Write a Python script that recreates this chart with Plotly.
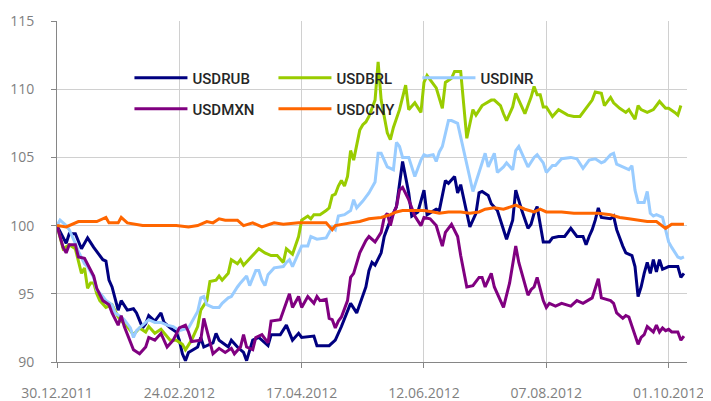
import plotly.graph_objects as go

tick_days = [0, 40, 80, 120, 160, 200]
tick_labels = ["30.12.2011", "24.02.2012", "17.04.2012", "12.06.2012", "07.08.2012", "01.10.2012"]

rub_day = [0, 3, 4, 6, 8, 10, 12, 15, 16, 17, 18, 20, 21, 23, 25, 26, 28, 29, 30, 32, 34, 35, 37, 39, 40, 41, 42, 43,
           46, 47, 48, 51, 52, 53, 56, 57, 59, 61, 62, 64, 66, 69, 70, 73, 75, 77, 79, 80, 84, 85, 89, 91, 93, 96, 98,
           101, 102, 103, 104, 106, 107, 109, 111, 113, 115, 116, 118, 120, 121, 124, 125, 127, 128, 130, 131, 132, 135,
           137, 138, 139, 141, 142, 144, 147, 149, 150, 152, 154, 155, 156, 157, 159, 161, 162, 164, 166, 168, 170, 172,
           173, 174, 175, 176, 177, 178, 181, 182, 183, 185, 186, 188, 189, 190, 191, 192, 193, 194, 195, 196, 197, 198,
           200, 201, 203, 204, 205]
rub_val = [100.0, 98.7, 99.4, 99.4, 98.3, 99.1, 98.4, 97.5, 97.4, 96.0, 95.5, 93.8, 94.5, 93.8, 93.9, 93.6, 92.5, 92.8,
           93.4, 93.0, 93.6, 92.9, 92.5, 92.2, 91.6, 90.6, 90.1, 90.7,
           91.1, 91.8, 91.1, 91.4, 92.1, 91.6, 91.1, 91.6, 91.1, 90.7, 90.1, 91.6, 91.8, 91.2, 92.0, 92.0, 92.7, 91.6,
           92.1, 91.8, 91.9, 91.2, 91.2, 91.6, 92.6, 94.3, 93.6,
           95.5, 96.7, 97.3, 97.1, 98.0, 99.2, 100.4, 101.4, 104.7, 102.4, 100.7, 101.0, 102.6, 100.8, 101.2, 101.1,
           103.3, 103.1, 103.6, 102.4, 103.0, 99.9,
           100.9, 102.4, 102.5, 102.2, 101.6, 101.1, 99.0, 100.4, 102.6, 101.1, 99.8, 100.1, 100.9, 101.4, 98.8, 98.8,
           99.1, 99.2, 99.2, 99.8, 99.2, 99.2,
           98.6, 99.2, 99.7, 100.4, 101.3, 100.6, 100.5, 100.7, 99.7, 98.5, 98.0, 97.8, 97.0, 94.8, 95.5, 96.5, 97.3,
           96.5, 97.5, 96.6, 97.5, 96.8,
           97.0, 97.0, 97.0, 96.2, 96.5]

brl_day = [0, 2, 4, 6, 8, 9, 10, 11, 12, 13, 14, 16, 18, 20, 21, 23, 25, 27, 29, 30, 32, 34, 37, 39, 41, 42, 44, 46, 47,
           49, 50, 52, 53, 54, 56, 57, 59, 60, 61, 64, 65, 66, 68, 70, 72, 74, 75, 77, 79, 80, 82, 83, 84, 86, 88, 89,
           90, 91, 92, 93, 94, 95, 96, 97, 99, 100, 101, 102, 104, 105, 106, 108, 109, 110, 112, 113, 114, 115, 117,
           119, 120, 121, 123, 124, 126, 127, 129, 130, 132, 133, 134, 136, 137, 139, 142, 143, 145, 146, 147, 149,
           150, 152, 153, 155, 156, 157, 158, 159, 160, 162, 164, 167, 169, 171, 173, 175, 176, 178, 179, 181, 182,
           184, 186, 187, 189, 190, 191, 193, 195, 197, 199, 200, 202, 203, 204]
brl_val = [100.0, 98.3, 98.6, 98.3, 96.5, 96.9, 95.4, 95.8, 95.8, 95.0, 94.5, 94.0, 94.2, 93.3, 93.0, 92.6, 92.0, 92.5,
           92.2, 92.6, 92.1, 92.4, 91.6, 91.6, 91.3, 90.9, 91.6, 92.6, 93.8,
           94.5, 95.9, 96.0, 96.3, 96.0, 96.5, 97.5, 97.2, 97.5, 97.1, 97.8, 98.0, 98.3, 98.0, 97.8, 97.8, 97.3, 98.3,
           97.9, 99.2, 100.4, 100.7, 100.5, 100.8, 100.8, 101.1, 101.3,
           102.2, 102.3, 102.9, 103.3, 102.9, 103.6, 105.5, 104.8, 107.0, 107.4, 107.6, 108.0, 109.2, 112.0, 109.2,
           106.8, 106.3, 107.2, 108.5, 109.4, 110.3, 108.5, 109.0,
           108.3, 110.5, 111.0, 110.4, 110.1, 108.6, 110.5, 110.8, 111.3, 111.3, 109.0, 106.4, 108.5, 108.1, 108.8,
           109.2, 109.2, 108.8, 108.2, 107.7, 108.7,
           109.7, 108.7, 108.2, 109.4, 110.2, 109.6, 109.6, 108.7, 108.7, 108.0, 108.5, 108.1, 108.0, 108.0, 108.6,
           109.2, 109.8, 109.7, 108.8, 109.4, 109.0,
           108.6, 108.3, 108.5, 107.8, 108.8, 108.5, 108.3, 108.5, 109.1, 108.6, 108.6, 108.3, 108.1, 108.8]

inr_day = [0, 1, 3, 4, 6, 7, 9, 10, 12, 13, 15, 16, 18, 19, 21, 22, 24, 25, 26, 28, 30, 32, 34, 36, 38, 40, 42, 43, 44,
           46, 47, 48, 49, 51, 53, 54, 56, 57, 59, 60, 62, 63, 65, 66, 67, 68, 69, 71, 74, 75, 76, 77, 79, 80, 82, 83,
           85, 87, 88, 90, 91, 92, 94, 96, 97, 98, 100, 102, 104, 105, 106, 108, 110, 111, 112, 113, 115, 117, 119,
           120, 121, 123, 124, 125, 126, 128, 129, 131, 133, 134, 135, 136, 137, 139, 140, 141, 143, 144, 146, 147,
           149, 150, 151, 153, 154, 156, 157, 159, 160, 162, 163, 165, 168, 170, 172, 174, 176, 178, 179, 181, 182,
           183, 185, 187, 188, 189, 190, 192, 193, 194, 195, 196, 198, 199, 200, 201, 203, 204, 205]
inr_val = [100.0, 100.4, 100.0, 99.7, 98.7, 98.1, 97.2, 97.0, 96.2, 95.3, 94.8, 94.5, 94.2, 93.6, 93.3, 93.1, 92.5,
           91.8, 92.3, 92.7, 93.1, 92.9, 92.9, 92.7, 92.6, 92.3, 92.4, 92.5, 92.9,
           93.7, 94.7, 94.8, 94.2, 94.0, 94.0, 94.3, 94.7, 94.8, 95.5, 95.8, 96.3, 95.6, 96.7, 96.7, 96.0, 95.6, 96.4,
           96.9, 97.0, 97.3, 97.5, 97.0, 98.0, 98.5, 98.5, 99.2,
           99.0, 99.1, 99.1, 99.9, 99.7, 100.7, 100.8, 101.1, 101.9, 101.3, 101.8, 102.4, 103.2, 105.3, 105.3, 104.3,
           104.1, 106.1, 105.8, 105.0, 105.0, 103.6, 104.8,
           105.2, 105.1, 105.2, 104.7, 105.4, 105.8, 107.7, 107.7, 107.5, 105.5, 104.6, 103.6, 102.5, 103.2, 104.6,
           105.3, 104.3, 105.3, 103.9, 104.3, 104.6,
           104.1, 105.5, 105.8, 104.8, 104.3, 105.0, 105.2, 104.6, 103.9, 104.4, 104.4, 104.9, 105.0, 104.9, 104.2,
           104.8, 104.9, 104.6, 104.7, 105.2, 105.3,
           104.5, 104.3, 104.1, 104.4, 102.6, 101.7, 101.7, 102.5, 100.9, 100.7, 100.8, 100.6, 99.6, 98.8, 98.4, 97.7,
           97.6, 97.7]

mxn_day = [0, 2, 3, 4, 6, 7, 9, 10, 12, 13, 15, 17, 18, 20, 21, 22, 23, 25, 27, 29, 30, 32, 34, 36, 38, 40, 42, 43, 44,
           47, 48, 49, 51, 53, 55, 57, 58, 60, 61, 62, 64, 65, 67, 69, 70, 73, 75, 76, 77, 79, 80, 82, 84, 85, 86, 88,
           89, 90, 91, 92, 93, 95, 96, 97, 99, 101, 102, 104, 106, 107, 108, 109, 110, 111, 112, 113, 115, 117, 119,
           120, 122, 124, 126, 127, 129, 131, 132, 133, 134, 136, 138, 139, 140, 142, 143, 146, 148, 150, 151, 154,
           155, 156, 157, 159, 160, 161, 163, 165, 168, 170, 172, 175, 177, 178, 181, 182, 183, 185, 186, 187, 188,
           190, 191, 192, 193, 195, 196, 197, 198, 199, 200, 201, 203, 204, 205]
mxn_val = [100.0, 98.4, 98.0, 98.6, 98.6, 97.7, 97.6, 97.2, 96.3, 95.4, 94.5, 94.2, 93.6, 92.7, 93.4, 92.6, 92.0, 90.9,
           90.6, 91.1, 91.8, 91.6, 92.1, 91.1, 91.6, 92.5, 92.7, 92.2, 91.5,
           91.6, 93.2, 92.4, 90.6, 91.0, 90.7, 91.0, 90.6, 91.1, 92.0, 91.1, 90.9, 91.8, 92.0, 91.4, 93.0, 93.1, 94.4,
           95.0, 94.0, 94.8, 94.0, 94.8, 94.3, 94.8, 94.5, 94.6,
           93.2, 93.1, 92.5, 93.0, 93.3, 94.5, 96.2, 96.5, 98.0, 98.9, 99.2, 98.8, 99.5, 100.6, 100.9, 100.0, 100.9,
           101.4, 102.6, 102.8, 101.9, 100.7, 100.0,
           100.6, 100.5, 100.0, 98.5, 99.5, 100.1, 99.2, 97.8, 96.5, 95.5, 95.6, 96.2, 96.2, 95.5, 96.5, 95.5, 94.0,
           95.8, 98.5, 97.3, 94.9,
           95.3, 95.5, 96.2, 94.5, 94.0, 94.3, 94.1, 94.3, 94.1, 94.5, 94.3, 94.7, 96.1, 94.7, 94.5, 94.3, 93.6, 93.2,
           93.4, 93.3, 92.6,
           91.3, 91.8, 92.0, 92.6, 92.2, 92.7, 92.2, 92.5, 92.3, 92.4, 92.2, 92.2, 91.6, 91.9]

cny_day = [0, 3, 7, 10, 13, 16, 17, 20, 21, 23, 26, 28, 31, 36, 39, 43, 46, 49, 51, 53, 55, 59, 61, 64, 67, 71, 74, 79,
           84, 88, 90, 91, 96, 99, 102, 106, 109, 111, 113, 117, 120, 123, 125, 128, 132, 135, 138, 140, 143, 146, 150,
           153, 156, 158, 160, 165, 169, 173, 177, 181, 184, 187, 190, 193, 196, 198, 199, 201, 205]
cny_val = [100.0, 99.9, 100.3, 100.3, 100.3, 100.6, 100.2, 100.2, 100.6, 100.2, 100.1, 100.0, 100.0, 100.0, 100.0,
           99.9, 100.0, 100.3, 100.2, 100.5, 100.4, 100.4, 100.0, 100.2, 99.9, 100.2, 100.1, 100.2,
           100.2, 100.2, 99.7, 100.0, 100.2, 100.3, 100.5, 100.6, 100.8, 101.0, 101.1, 101.1, 101.1, 101.0, 100.9,
           101.0, 101.0, 100.9, 101.0, 101.2, 101.3, 101.2, 101.5,
           101.2, 101.0, 101.2, 101.0, 101.0, 100.9, 100.9, 100.9, 100.8, 100.6, 100.5, 100.4, 100.3, 100.3, 100.0,
           99.8, 100.1, 100.1]

series = [
    ("USDRUB", rub_day, rub_val, "#000080", "legend"),
    ("USDBRL", brl_day, brl_val, "#99CC00", "legend"),
    ("USDINR", inr_day, inr_val, "#99CCFF", "legend"),
    ("USDMXN", mxn_day, mxn_val, "#800080", "legend2"),
    ("USDCNY", cny_day, cny_val, "#FF6600", "legend2"),
]

fig = go.Figure()
for name, xs, ys, color, lg in series:
    fig.add_trace(go.Scatter(x=xs, y=ys, name=name, mode="lines",
                             line=dict(color=color, width=3), legend=lg))

axis_col = "#868686"
grid_col = "#d0d0d0"
tick_font = dict(family="Open Sans", size=14, color="#7f7f7f")
legend_common = dict(orientation="h", xanchor="left", yanchor="middle",
                     bgcolor="rgba(0,0,0,0)", itemwidth=53,
                     entrywidth=76, entrywidthmode="pixels",
                     font=dict(family="Roboto", size=15, color="#262626", weight=500),
                     traceorder="normal", itemclick=False)

# page body has an 8px margin, so the figure is 703x393 and offset by 8px
fig.update_layout(
    width=703, height=393,
    margin=dict(l=49, r=24, t=13, b=39, autoexpand=False),
    paper_bgcolor="white", plot_bgcolor="white",
    font=dict(family="Open Sans"),
    showlegend=True,
    legend=dict(x=0.115, y=0.833, **legend_common),
    legend2=dict(x=0.115, y=0.742, **legend_common),
    xaxis=dict(range=[0, 206], tickmode="array", tickvals=tick_days, ticktext=tick_labels,
               showgrid=True, gridcolor=grid_col, gridwidth=1, zeroline=False,
               showline=True, linecolor=axis_col, linewidth=1, automargin=False,
               ticks="outside", ticklen=5, tickcolor=axis_col, tickfont=tick_font,
               ticklabelstandoff=13),
    yaxis=dict(range=[90, 115], tickmode="linear", tick0=90, dtick=5,
               showgrid=True, gridcolor=grid_col, gridwidth=1, zeroline=False,
               showline=True, linecolor=axis_col, linewidth=1, automargin=False,
               ticks="outside", ticklen=5, tickcolor=axis_col, tickfont=tick_font,
               ticklabelstandoff=14),
)

fig.write_html("out.html")
